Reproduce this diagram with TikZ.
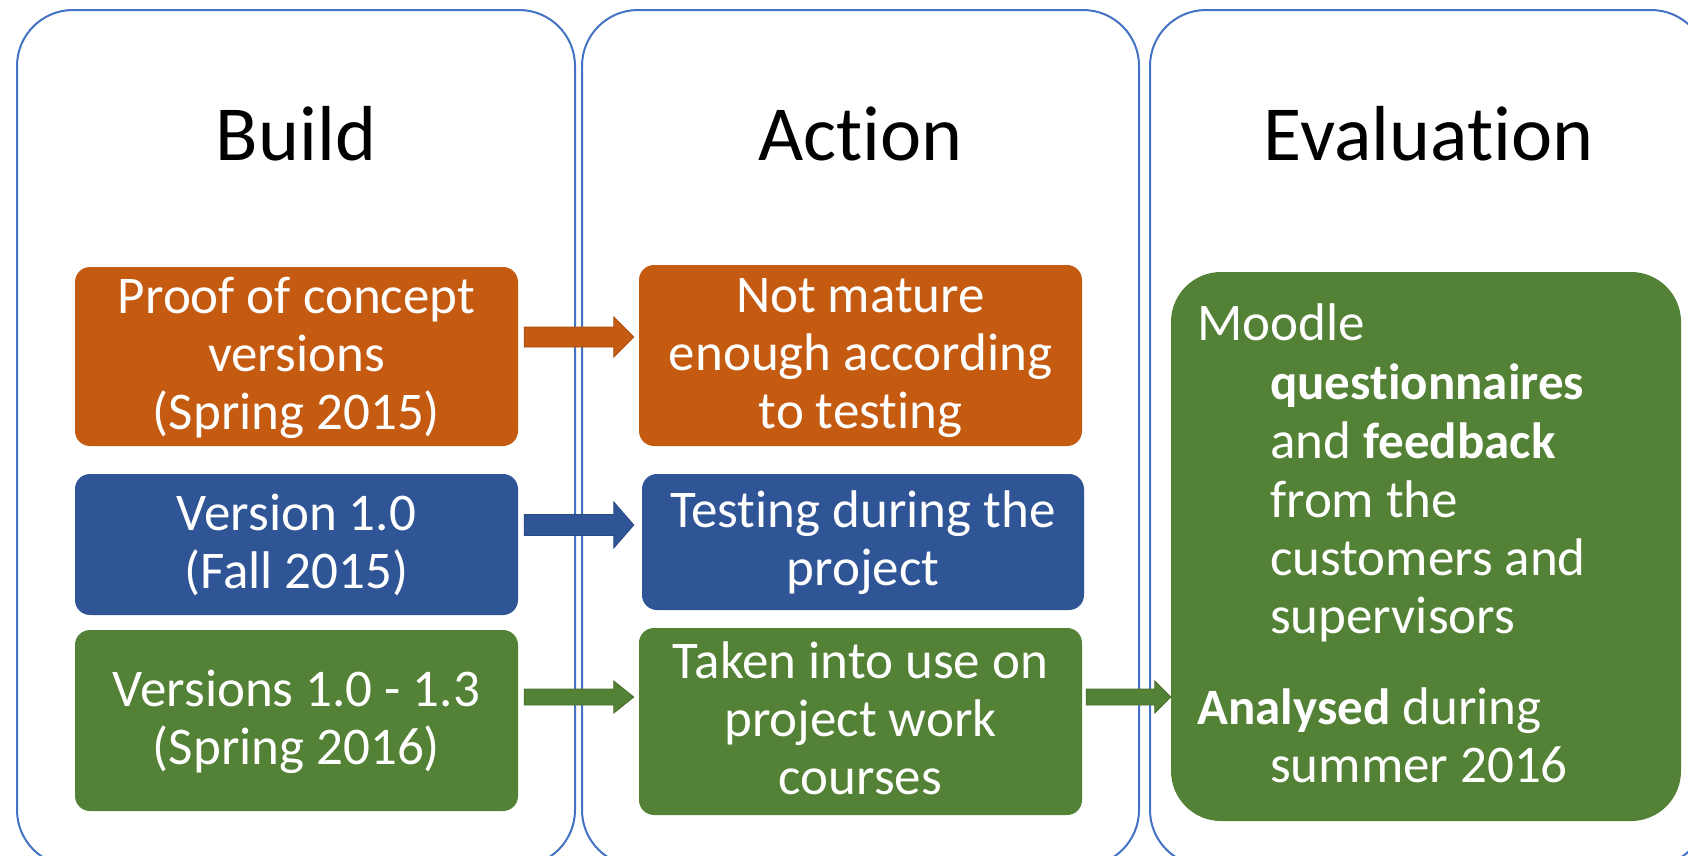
\documentclass[tikz,border=0pt]{standalone}
\usepackage{fontspec}
\setmainfont[Ligatures={NoCommon}]{Carlito}
\usetikzlibrary{calc}
\definecolor{corg}{HTML}{C55A11}
\definecolor{cblu}{HTML}{2F5597}
\definecolor{cgrn}{HTML}{538135}
\definecolor{cline}{HTML}{4472C4}
\newcommand\mystrut{\rule[-14.5pt]{0pt}{58pt}}
\newcommand\hiword[1]{{\fontsize{51}{58}\selectfont\bfseries #1}}
\newcommand\nl{\kern0pt}% breaks the "ti" ligature
% #1 start coord, #2 tip coord, #3 colour, #4 shaft half, #5 head half, #6 head length
\newcommand\blockarr[6]{%
  \filldraw[fill=#3, draw=#3!85!black, line width=0.8pt]
    ($(#1)+(0,#4)$) -- ($(#2)+(-#6,#4)$) -- ($(#2)+(-#6,#5)$) -- (#2)
    -- ($(#2)+(-#6,-#5)$) -- ($(#2)+(-#6,-#4)$) -- ($(#1)+(0,-#4)$) -- cycle;}
\begin{document}
\begin{tikzpicture}[x=1pt,y=-1pt,
  col/.style={draw=cline, line width=2pt, rounded corners=56pt, minimum height=856pt, inner sep=0pt},
  ttl/.style={font=\fontsize{78}{90}\selectfont, anchor=base, inner sep=0pt},
  box/.style={rounded corners=15pt, text=white, align=center, font=\fontsize{53}{58}\selectfont, inner sep=0pt},
  etxt/.style={text=white, anchor=base west, inner sep=0pt, font=\fontsize{53}{58}\selectfont}]
\useasboundingbox (0,0) rectangle (1688,855);
\clip (0,0) rectangle (1688,855);
\fill[white] (0,0) rectangle (1688,855);
% columns
\node[col, minimum width=558pt] (c1) at (296,438) {};
\node[col, minimum width=557pt] (c2) at (860.5,438) {};
\node[col, minimum width=557pt] (c3) at (1428.5,438) {};
% titles
\node[ttl] (t1) at (296,160) {Build};
\node[ttl] (t2) at (860.5,160) {Act\nl ion};
\node[ttl] (t3) at (1428.5,160) {Evaluat\nl ion};
% build boxes
\node[box, fill=corg, minimum width=443pt, minimum height=179pt] (b1) at (296.5,356.5)
  {\mystrut Proof of concept\\\mystrut versions\\\mystrut (Spring 2015)};
\node[box, fill=cblu, minimum width=443pt, minimum height=141pt] (b2) at (296.5,544.5)
  {\mystrut Version 1.0\\\mystrut (Fall 2015)};
\node[box, fill=cgrn, minimum width=443pt, minimum height=181pt] (b3) at (296.5,720.5)
  {\mystrut Versions 1.0 - 1.3\\\mystrut (Spring 2016)};
% action boxes
\node[box, fill=corg, minimum width=443pt, minimum height=181pt] (a1) at (860.5,355.5)
  {\mystrut Not mature\\\mystrut enough according\\\mystrut to test\nl ing};
\node[box, fill=cblu, minimum width=442pt, minimum height=136pt] (a2) at (863,542)
  {\mystrut Test\nl ing during the\\\mystrut project};
\node[box, fill=cgrn, minimum width=443pt, minimum height=187pt] (a3) at (860.5,721.5)
  {\mystrut Taken into use on\\\mystrut project work\\\mystrut courses};
% evaluation box
\node[fill=cgrn, rounded corners=50pt, minimum width=510pt, minimum height=549pt, inner sep=0pt] (ev) at (1426,546.5) {};
% arrows
\coordinate (s1) at ($(b1.east)+(6,-19.5)$);
\coordinate (e1) at ($(a1.west)+(-5,-18.5)$);
\coordinate (s2) at ($(b2.east)+(6,-19.5)$);
\coordinate (e2) at ($(a2.west)+(-8,-17)$);
\coordinate (s3) at ($(b3.east)+(6,-23.5)$);
\coordinate (e3) at ($(a3.west)+(-5,-24.5)$);
\coordinate (s4) at ($(a3.east)+(4,-24.5)$);
\coordinate (e4) at ($(ev.west)+(0,150.5)$);
\blockarr{s1}{e1}{corg}{10}{20}{20}
\blockarr{s2}{e2}{cblu}{10.5}{23}{20}
\blockarr{s3}{e3}{cgrn}{8}{16}{20}
\blockarr{s4}{e4}{cgrn}{8}{16}{16}
% evaluation text
\node[etxt] (l1) at (1197,340) {Moodle};
\node[etxt] (l2) at (1270,399) {\hiword{quest\nl ionnaires}};
\node[etxt] (l3) at (1270,458) {and \hiword{feedback}};
\node[etxt] (l4) at (1270,517) {from the};
\node[etxt] (l5) at (1270,575) {customers and};
\node[etxt] (l6) at (1270,633) {supervisors};
\node[etxt] (l7) at (1197,724) {\hiword{Analysed} during};
\node[etxt] (l8) at (1270,782) {summer 2016};
\end{tikzpicture}
\end{document}
